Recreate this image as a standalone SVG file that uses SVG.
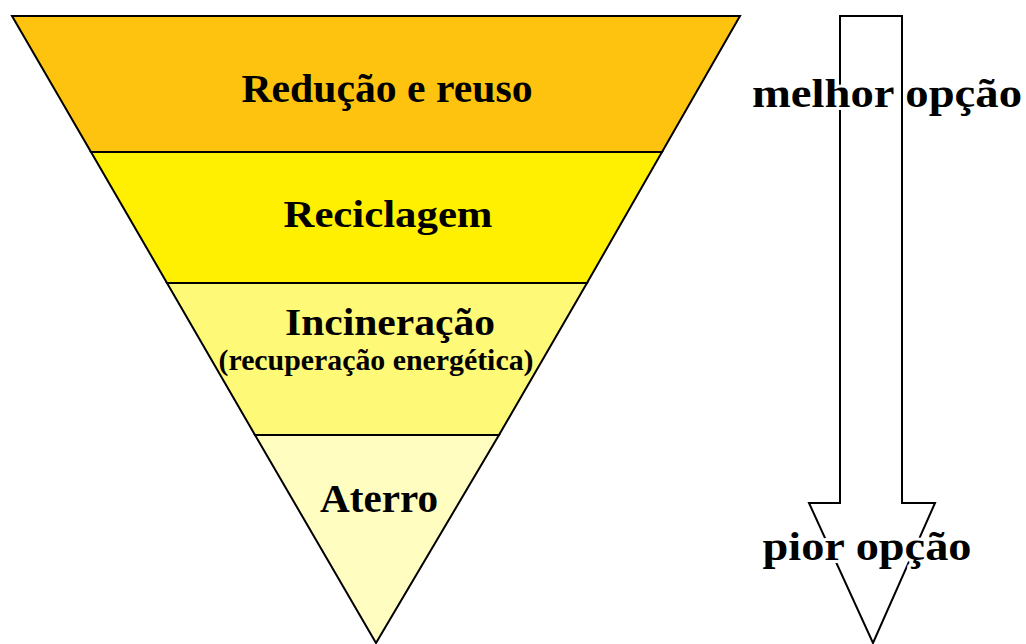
<svg xmlns="http://www.w3.org/2000/svg" width="1026" height="644" viewBox="0 0 1026 644">
<style>
.band{stroke:#000;stroke-width:2;stroke-linejoin:miter}
.lbl{font-family:"Liberation Serif","Times New Roman",serif;font-weight:bold;fill:#000;text-anchor:middle}
.halo{paint-order:stroke;stroke:#fff;stroke-width:6;stroke-linejoin:round}
</style>
<rect x="0" y="0" width="1026" height="644" fill="#fff"/>
<g id="band-reducao">
<polygon class="band" points="12,16 740,16 662,152 91,152" fill="#FEC30E"/>
<text class="lbl" x="387" y="102" font-size="40" textLength="291" lengthAdjust="spacingAndGlyphs">Redução e reuso</text>
</g>
<g id="band-reciclagem">
<polygon class="band" points="91,152 662,152 587,283 167,283" fill="#FFEF00"/>
<text class="lbl" x="388" y="227" font-size="38" textLength="209" lengthAdjust="spacingAndGlyphs">Reciclagem</text>
</g>
<g id="band-incineracao">
<polygon class="band" points="167,283 587,283 499,435 255,435" fill="#FFF978"/>
<text class="lbl" x="390" y="335" font-size="38" textLength="210" lengthAdjust="spacingAndGlyphs">Incineração</text>
<text class="lbl" x="376" y="370" font-size="29" textLength="315" lengthAdjust="spacingAndGlyphs">(recuperação energética)</text>
</g>
<g id="band-aterro">
<polygon class="band" points="255,435 499,435 376,643" fill="#FFFDC0"/>
<text class="lbl" x="379" y="512" font-size="40" textLength="118" lengthAdjust="spacingAndGlyphs">Aterro</text>
</g>
<g id="connectors">
<polygon points="840,16 902,16 902,503 935,503 873,643 809,503 840,503" fill="#fff" stroke="#000" stroke-width="2"/>
<text class="lbl halo" x="887" y="107" font-size="39" textLength="270" lengthAdjust="spacingAndGlyphs">melhor opção</text>
<line x1="902" y1="16" x2="902" y2="503" stroke="#000" stroke-width="2"/>
<text class="lbl halo" x="867" y="560" font-size="39" textLength="209" lengthAdjust="spacingAndGlyphs">pior opção</text>
</g>
</svg>
